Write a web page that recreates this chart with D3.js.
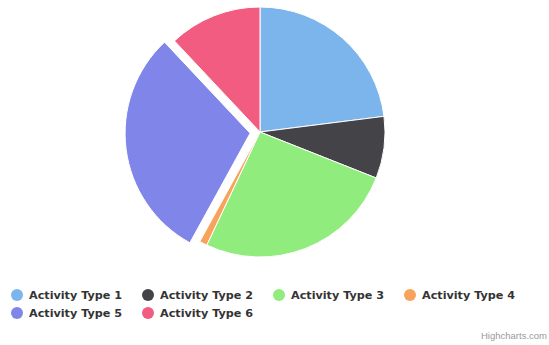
<!DOCTYPE html>
<html>
<head>
<meta charset="utf-8">
<script src="https://cdn.jsdelivr.net/npm/d3@7"></script>
<style>
  body { margin: 0; background: #fff; }
  svg { font-family: "DejaVu Sans", Verdana, sans-serif; }
</style>
</head>
<body>
<div id="chart"></div>
<script>
var categories = ["Activity Type 1", "Activity Type 2", "Activity Type 3", "Activity Type 4", "Activity Type 5", "Activity Type 6"];
var values = [23, 8, 26, 1, 30, 12];
var colors = ["#7cb5ec", "#434348", "#90ed7d", "#f7a35c", "#8085e9", "#f15c80"];
var sliced = [false, false, false, false, true, false];

var width = 549, height = 345;
var cx = 260, cy = 132, radius = 125, slicedOffset = 10;

var svg = d3.select("#chart").append("svg")
    .attr("width", width)
    .attr("height", height);

var data = categories.map(function(c, i) {
    return {name: c, value: values[i], color: colors[i], sliced: sliced[i]};
});

var pie = d3.pie().sort(null).value(function(d) { return d.value; });
var arc = d3.arc().innerRadius(0).outerRadius(radius);

var g = svg.append("g")
    .attr("transform", "translate(" + cx + "," + cy + ")");

g.selectAll("path")
    .data(pie(data))
    .enter().append("path")
    .attr("d", arc)
    .attr("fill", function(d) { return d.data.color; })
    .attr("stroke", "#fff")
    .attr("stroke-width", 1)
    .attr("stroke-linejoin", "round")
    .attr("transform", function(d) {
        if (!d.data.sliced) return null;
        var a = (d.startAngle + d.endAngle) / 2;
        return "translate(" + (Math.sin(a) * slicedOffset) + "," + (-Math.cos(a) * slicedOffset) + ")";
    });

// legend, 4 items per row
var legend = svg.append("g").attr("class", "legend");
var colX = [17, 148, 279, 410], rowY = [295, 313];

var item = legend.selectAll("g")
    .data(data)
    .enter().append("g")
    .attr("transform", function(d, i) {
        return "translate(" + colX[i % 4] + "," + rowY[Math.floor(i / 4)] + ")";
    });

item.append("circle")
    .attr("r", 6)
    .attr("fill", function(d) { return d.color; });

item.append("text")
    .attr("x", 12)
    .attr("dy", "0.35em")
    .attr("fill", "#333")
    .style("font-size", "11.2px")
    .style("font-weight", "bold")
    .text(function(d) { return d.name; });

svg.append("text")
    .attr("x", width - 2)
    .attr("y", 339)
    .attr("text-anchor", "end")
    .attr("fill", "#999")
    .style("font-size", "9.5px")
    .style("font-family", "'Liberation Sans', Arial, sans-serif")
    .text("Highcharts.com");
</script>
</body>
</html>
